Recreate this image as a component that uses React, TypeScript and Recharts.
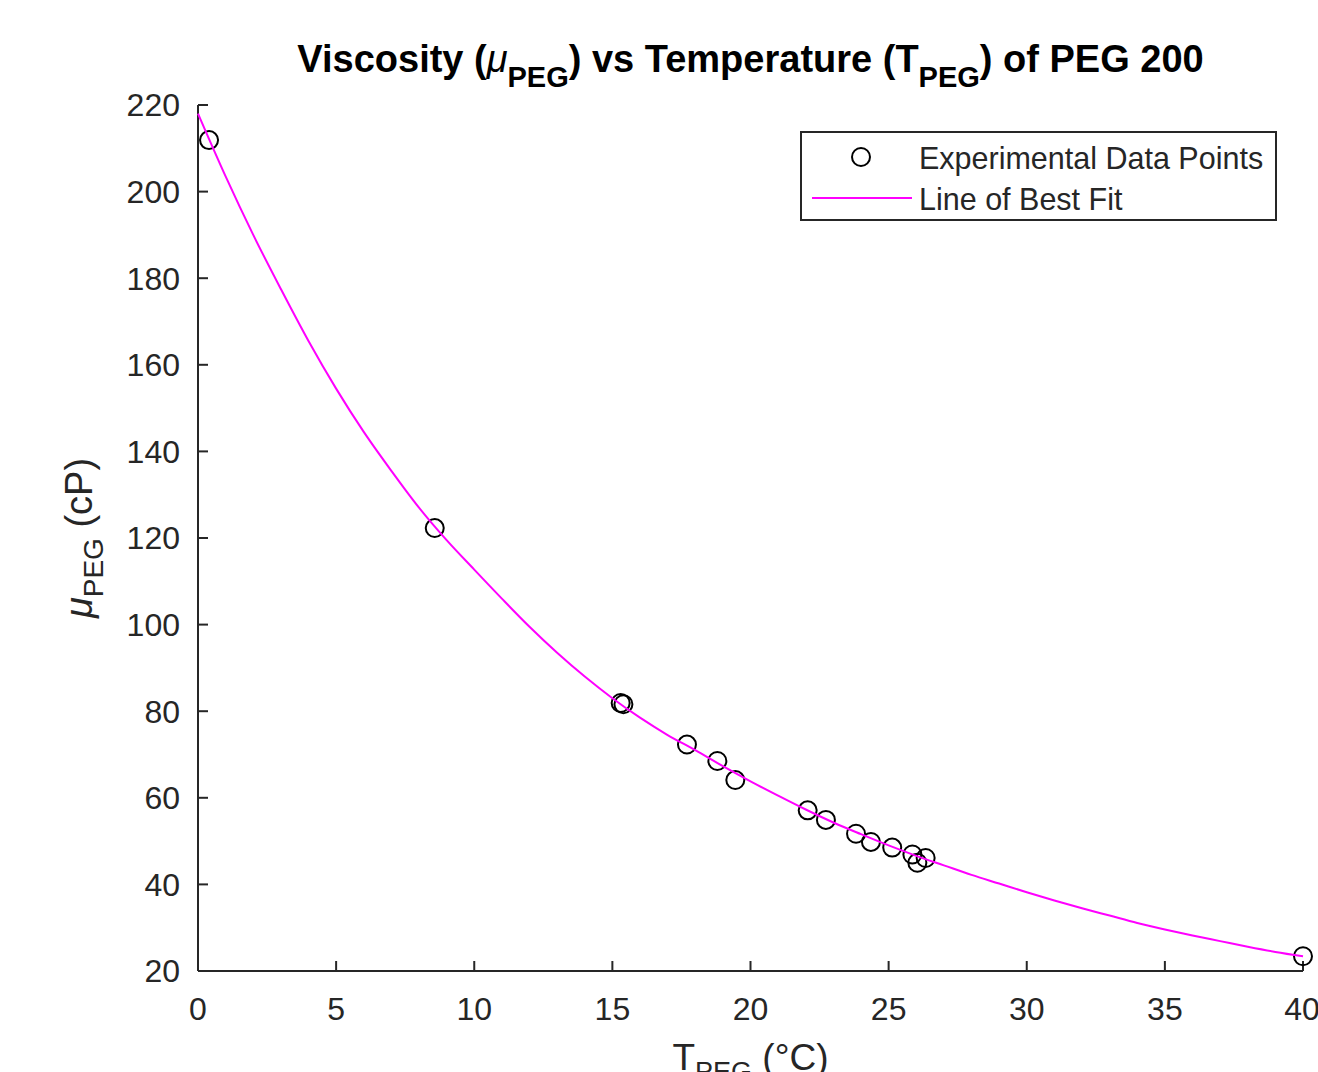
import { ScatterChart, Scatter, XAxis, YAxis, Legend, Label } from 'recharts';

const FONT = "'Liberation Sans', Arial, Helvetica, sans-serif";
const AXIS = '#262626';
const MAGENTA = '#ff00ff';

// line of best fit, every 1 °C
const fitT = [0, 1, 2, 3, 4, 5, 6, 7, 8, 9, 10, 11, 12, 13, 14, 15, 16, 17, 18, 19, 20,
  21, 22, 23, 24, 25, 26, 27, 28, 29, 30, 31, 32, 33, 34, 35, 36, 37, 38, 39, 40];
const fitMu = [218, 203.5, 190, 177.5, 165.5, 154.5, 144.5, 135.5, 127, 119.5, 112.7,
  106, 99.5, 93.5, 88, 83, 78.5, 74.5, 71, 67.3, 63.8,
  60.5, 57.3, 54.3, 51.6, 49, 46.6, 44.4, 42.2, 40.2, 38.2,
  36.3, 34.5, 32.8, 31.1, 29.6, 28.2, 26.9, 25.6, 24.4, 23.4];

// experimental points
const expT = [0.4, 8.57, 15.3, 15.4, 17.7, 18.8, 19.45, 22.07, 22.73, 23.82, 24.36,
  25.13, 25.86, 26.04, 26.34, 40];
const expMu = [211.9, 122.3, 81.9, 81.6, 72.3, 68.5, 64.1, 57.1, 54.9, 51.7, 49.8,
  48.5, 46.9, 45.0, 46.1, 23.4];

const xTicks = [0, 5, 10, 15, 20, 25, 30, 35, 40];
const yTicks = [20, 40, 60, 80, 100, 120, 140, 160, 180, 200, 220];

const fitData = fitT.map((t, i) => ({ t, mu: fitMu[i] }));
const expData = expT.map((t, i) => ({ t, mu: expMu[i] }));

const Ring = (props: any) => (
  <circle cx={props.cx} cy={props.cy} r={9} fill="none" stroke="#000" strokeWidth={2} />
);

const XLabel = ({ viewBox }: any) => {
  const cx = viewBox.x + viewBox.width / 2;
  return (
    <text x={cx} y={1070} textAnchor="middle" fontFamily={FONT} fontSize={37} fill={AXIS}>
      T<tspan fontSize={27} dy={11}>PEG</tspan>
      <tspan dy={-11}> (°C)</tspan>
    </text>
  );
};

const YLabel = ({ viewBox }: any) => {
  const cx = viewBox.x - 6;
  const cy = viewBox.y + viewBox.height / 2;
  return (
    <text x={cx} y={cy} transform={`rotate(-90, ${cx}, ${cy})`} textAnchor="middle"
      fontFamily={FONT} fontSize={38} fill={AXIS}>
      <tspan fontStyle="italic">μ</tspan>
      <tspan fontSize={28} dy={11}>PEG</tspan>
      <tspan dy={-11}> (cP)</tspan>
    </text>
  );
};

const LegendBox = () => (
  <div style={{ position: 'relative', boxSizing: 'border-box', width: 477, height: 90,
    border: `2px solid ${AXIS}`, background: '#fff', fontFamily: FONT, fontSize: 30.5, color: AXIS }}>
    <svg width={477} height={90} style={{ position: 'absolute', left: -2, top: -2 }}>
      <circle cx={61} cy={26} r={9} fill="none" stroke="#000" strokeWidth={2} />
      <line x1={12} x2={112} y1={67} y2={67} stroke={MAGENTA} strokeWidth={2} />
    </svg>
    <div style={{ position: 'absolute', left: 117, top: 10, lineHeight: '30px', whiteSpace: 'nowrap' }}>
      Experimental Data Points
    </div>
    <div style={{ position: 'absolute', left: 117, top: 51, lineHeight: '30px', whiteSpace: 'nowrap' }}>
      Line of Best Fit
    </div>
  </div>
);

const subStyle = { fontSize: 29, verticalAlign: -15, lineHeight: 0 };

export default function App() {
  return (
    <div style={{ position: 'absolute', left: 0, top: 0, width: 1318, height: 1072, background: '#fff', overflow: 'hidden' }}>
      <div style={{ position: 'absolute', left: 198, width: 1105, top: 40, textAlign: 'center', fontFamily: FONT,
        fontWeight: 'bold', fontSize: 38, lineHeight: '38px', color: '#000', whiteSpace: 'nowrap' }}>
        Viscosity (<i style={{ fontWeight: 'normal' }}>μ</i><sub style={subStyle}>PEG</sub>) vs Temperature (T<sub style={subStyle}>PEG</sub>) of PEG 200
      </div>
      <ScatterChart width={1318} height={1072} margin={{ top: 105, right: 15, bottom: 0, left: 98 }}>
        <XAxis type="number" dataKey="t" domain={[0, 40]} ticks={xTicks}
          height={101} stroke={AXIS} strokeWidth={2} tickSize={-10} tickMargin={36}
          tick={{ fontSize: 32, fill: AXIS, fontFamily: FONT }}>
          <Label content={<XLabel />} />
        </XAxis>
        <YAxis type="number" dataKey="mu" domain={[20, 220]} ticks={yTicks}
          width={100} stroke={AXIS} strokeWidth={2} tickSize={-10} tickMargin={28}
          tick={{ fontSize: 32, fill: AXIS, fontFamily: FONT }}>
          <Label content={<YLabel />} />
        </YAxis>
        <Legend layout="vertical" align="center" verticalAlign="middle" content={<LegendBox />}
          wrapperStyle={{ left: 800, top: 131, width: 477, height: 90 }} />
        <Scatter name="Experimental Data Points" data={expData} shape={<Ring />} isAnimationActive={false} />
        <Scatter name="Line of Best Fit" data={fitData} line={{ stroke: MAGENTA, strokeWidth: 2 }}
          lineJointType="monotoneX" shape={() => <g />} isAnimationActive={false} />
      </ScatterChart>
    </div>
  );
}
